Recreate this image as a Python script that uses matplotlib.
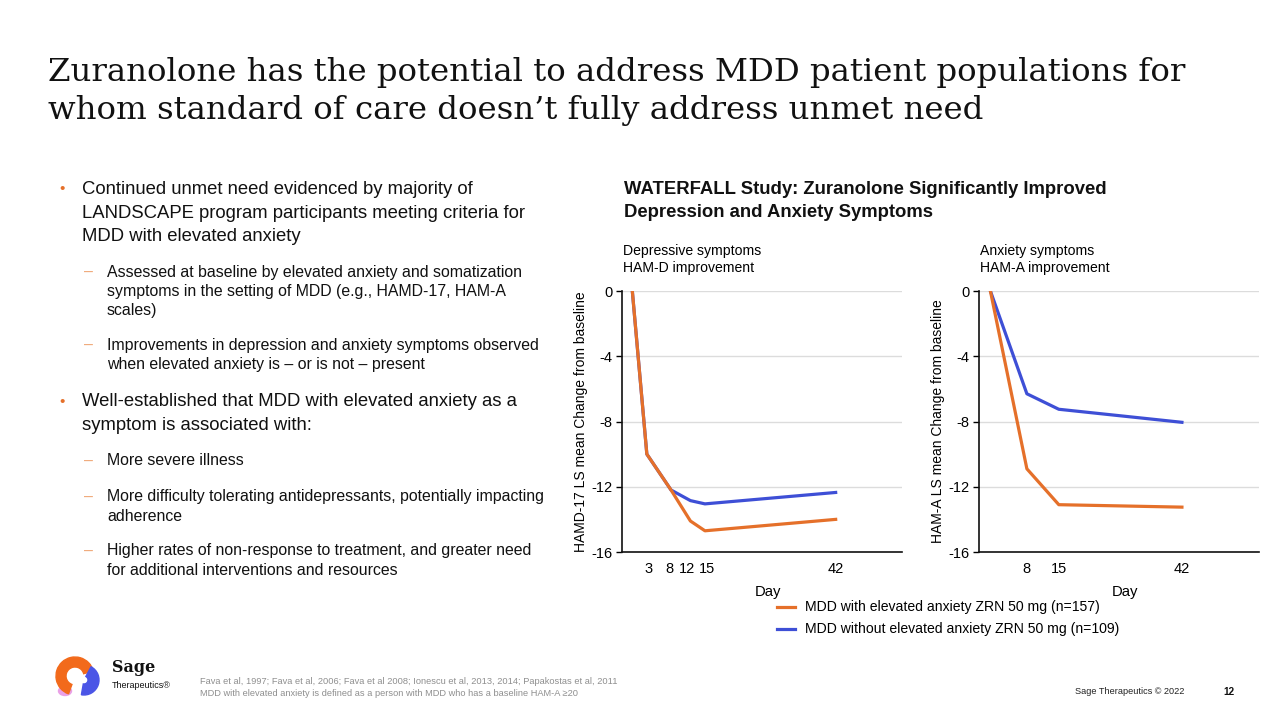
import matplotlib.pyplot as plt
from matplotlib.patches import Wedge, Ellipse
from matplotlib.transforms import ScaledTranslation

# data
hamd_days = [0, 3, 8, 12, 15, 42]
hamd_elev = [0, -10.0, -12.2, -14.1, -14.7, -14.0]
hamd_no_elev = [0, -10.0, -12.2, -12.85, -13.05, -12.35]
hamd_ticks = [3, 8, 12, 15, 42]

hama_days = [0, 8, 15, 42]
hama_elev = [0, -10.9, -13.1, -13.25]
hama_no_elev = [0, -6.3, -7.25, -8.05]
hama_ticks = [8, 15, 42]

y_ticks = [0, -4, -8, -12, -16]

ORANGE = '#E5702A'
BLUE = '#3E4FD6'

plt.rcParams['font.family'] = 'Liberation Sans'

fig = plt.figure(figsize=(12.8, 7.2), dpi=100)


def fx(px):
    return px / 1280


def fy(py):
    return 1 - py / 720


# slide title
fig.text(fx(48), fy(81), "Zuranolone has the potential to address MDD patient populations for",
         family='DejaVu Serif', fontsize=23.3, color='#111111', va='baseline')
fig.text(fx(48), fy(119), "whom standard of care doesn\u2019t fully address unmet need",
         family='DejaVu Serif', fontsize=23.3, color='#111111', va='baseline')

# bullets on the left
main_fs = 13.3
sub_fs = 11.45
bullets = [
    ('main', 189, ["Continued unmet need evidenced by majority of",
                   "LANDSCAPE program participants meeting criteria for",
                   "MDD with elevated anxiety"]),
    ('sub', 272, ["Assessed at baseline by elevated anxiety and somatization",
                  "symptoms in the setting of MDD (e.g., HAMD-17, HAM-A",
                  "scales)"]),
    ('sub', 345, ["Improvements in depression and anxiety symptoms observed",
                  "when elevated anxiety is \u2013 or is not \u2013 present"]),
    ('main', 402, ["Well-established that MDD with elevated anxiety as a",
                   "symptom is associated with:"]),
    ('sub', 461, ["More severe illness"]),
    ('sub', 497, ["More difficulty tolerating antidepressants, potentially impacting",
                  "adherence"]),
    ('sub', 551, ["Higher rates of non-response to treatment, and greater need",
                  "for additional interventions and resources"]),
]
for kind, y0, lines in bullets:
    if kind == 'main':
        fig.text(fx(59), fy(y0), "\u2022", fontsize=11, color=ORANGE, va='center')
        for i, ln in enumerate(lines):
            fig.text(fx(82), fy(y0 + i * 24), ln, fontsize=main_fs, color='#111111', va='center')
    else:
        fig.text(fx(84), fy(y0), "\u2013", fontsize=sub_fs, color='#F0A878', va='center')
        for i, ln in enumerate(lines):
            fig.text(fx(107), fy(y0 + i * 19.5), ln, fontsize=sub_fs, color='#111111', va='center')

# chart header
fig.text(fx(624), fy(189), "WATERFALL Study: Zuranolone Significantly Improved",
         fontsize=13.3, fontweight='bold', color='#111111', va='center')
fig.text(fx(624), fy(212), "Depression and Anxiety Symptoms",
         fontsize=13.3, fontweight='bold', color='#111111', va='center')


def draw_panel(left_px, xlim, days, elev, no_elev, ticks, ylabel, sub1, sub2, nudge):
    ax = fig.add_axes([fx(left_px), fy(552), fx(280), (552 - 291) / 720])
    ax.plot(days, no_elev, color=BLUE, lw=2.3, solid_joinstyle='round')
    ax.plot(days, elev, color=ORANGE, lw=2.3, solid_joinstyle='round')
    ax.set_xlim(*xlim)
    ax.set_ylim(-16, 0)
    ax.set_yticks(y_ticks)
    ax.set_yticklabels([str(v) for v in y_ticks])
    ax.set_xticks(ticks)
    ax.tick_params(axis='x', length=0, pad=7, labelsize=10.5)
    ax.tick_params(axis='y', length=4, width=1, labelsize=10.5, pad=3)
    # spread crowded day labels apart a little
    for lab, dx in zip(ax.get_xticklabels(), nudge):
        lab.set_transform(lab.get_transform() + ScaledTranslation(dx / 100, 0, fig.dpi_scale_trans))
    ax.grid(axis='y', color='#DCDCDC', lw=1)
    ax.set_axisbelow(True)
    for s in ('top', 'right'):
        ax.spines[s].set_visible(False)
    for s in ('left', 'bottom'):
        ax.spines[s].set_linewidth(1.2)
        ax.spines[s].set_color('#111111')
    ax.set_ylabel(ylabel, fontsize=10.0, labelpad=2)
    ax.set_xlabel("Day", fontsize=10.7)
    ax.xaxis.set_label_coords(0.52, -0.125)
    fig.text(fx(left_px + 1), fy(251), sub1, fontsize=10.1, va='center')
    fig.text(fx(left_px + 1), fy(268), sub2, fontsize=10.1, va='center')
    return ax


draw_panel(622, (-2.13, 55.7), hamd_days, hamd_elev, hamd_no_elev, hamd_ticks,
           "HAMD-17 LS mean Change from baseline",
           "Depressive symptoms", "HAM-D improvement", [2, -2, -3, 2, 0])
draw_panel(979, (-2.5, 58.9), hama_days, hama_elev, hama_no_elev, hama_ticks,
           "HAM-A LS mean Change from baseline",
           "Anxiety symptoms", "HAM-A improvement", [0, 0, 0])

# legend
legend_items = [("MDD with elevated anxiety ZRN 50 mg (n=157)", ORANGE, 607),
                ("MDD without elevated anxiety ZRN 50 mg (n=109)", BLUE, 629)]
for label, col, ly in legend_items:
    fig.add_artist(plt.Line2D([fx(777), fx(795)], [fy(ly), fy(ly)], color=col, lw=2.3))
    fig.text(fx(805), fy(ly), label, fontsize=10.05, va='center')

# footer
fig.text(fx(200), fy(682), "Fava et al, 1997; Fava et al, 2006; Fava et al 2008; Ionescu et al, 2013, 2014; Papakostas et al, 2011",
         fontsize=6.67, color='#8f8f8f', va='center')
fig.text(fx(200), fy(693), "MDD with elevated anxiety is defined as a person with MDD who has a baseline HAM-A \u226520",
         fontsize=6.67, color='#8f8f8f', va='center')
fig.text(fx(1075), fy(692), "Sage Therapeutics \u00a9 2022", fontsize=6.6, color='#222222', va='center')
fig.text(fx(1223), fy(692), "12", fontsize=7.2, fontweight='bold', color='#111111', va='center')

# logo mark
lax = fig.add_axes([fx(50), fy(700), fx(60), 44 / 720])
lax.set_xlim(0, 60)
lax.set_ylim(0, 44)
lax.set_aspect('equal')
lax.axis('off')
lax.add_patch(Ellipse((15, 9), 13, 9, color='#E9A0E6'))
lax.add_patch(Wedge((25, 24), 19, 15, 250, width=10, color='#F26A1B'))
lax.add_patch(Wedge((34, 20), 15, -100, 62, width=11, color='#4B55E6'))
fig.text(fx(112), fy(668), "Sage", family='DejaVu Serif', fontsize=11.5, fontweight='bold',
         color='#111111', va='center')
fig.text(fx(112), fy(686), "Therapeutics\u00ae", fontsize=6.5, color='#111111', va='center')

fig.savefig('out.png', dpi=100)
